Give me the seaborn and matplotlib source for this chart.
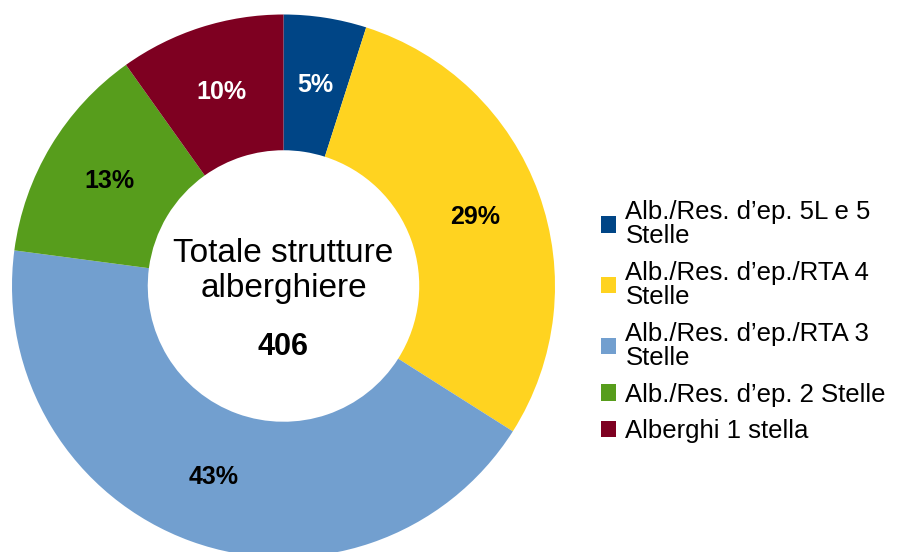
import matplotlib
matplotlib.use("Agg")
import matplotlib.pyplot as plt
import seaborn as sns

# data (406 structures in total)
categories = [
    "Alb./Res. d’ep. 5L e 5\nStelle",
    "Alb./Res. d’ep./RTA 4\nStelle",
    "Alb./Res. d’ep./RTA 3\nStelle",
    "Alb./Res. d’ep. 2 Stelle",
    "Alberghi 1 stella",
]
counts = [20, 118, 175, 53, 40]
colors = ["#004586", "#ffd320", "#729fcf", "#579d1c", "#7e0021"]
label_colors = ["white", "black", "black", "black", "white"]
total = sum(counts)

sns.set_theme(style="white")
plt.rcParams["font.family"] = ["Liberation Sans", "DejaVu Sans"]
plt.rcParams["text.color"] = "black"

fig = plt.figure(figsize=(8.98, 5.52), dpi=100)
# pie axes placed so the ring sits where it does in the reference
ax = fig.add_axes([12 / 898, 1 - 557.5 / 552, 543 / 898, 543 / 552])

wedges, texts, autotexts = ax.pie(
    counts,
    colors=sns.color_palette(colors),
    startangle=90,
    counterclock=False,
    radius=1,
    autopct="%.0f%%",
    pctdistance=0.75,
    wedgeprops=dict(width=0.5, linewidth=0),
    textprops=dict(fontsize=18, fontweight="bold"),
)
for t, c in zip(autotexts, label_colors):
    t.set_color(c)

ax.set_xlim(-1, 1)
ax.set_ylim(-1, 1)
ax.set_aspect("equal")
ax.axis("off")

# centre text
ax.text(0, 0.055, "Totale strutture\nalberghiere", ha="center", va="center",
        fontsize=24, linespacing=1.15, color="black")
ax.text(0, -0.225, str(total), ha="center", va="center",
        fontsize=22, fontweight="bold", color="black")

leg = fig.legend(
    wedges, categories,
    loc="upper left",
    bbox_to_anchor=(601 / 898, 1 - 200 / 552),
    frameon=False,
    fontsize=18.5,
    handlelength=0.6,
    handleheight=0.6,
    handletextpad=0.35,
    labelspacing=0.5,
    borderpad=0,
    borderaxespad=0,
)
for t in leg.get_texts():
    t.set_linespacing(1.0)
    t.set_color("black")

fig.savefig("out.png", dpi=100)
